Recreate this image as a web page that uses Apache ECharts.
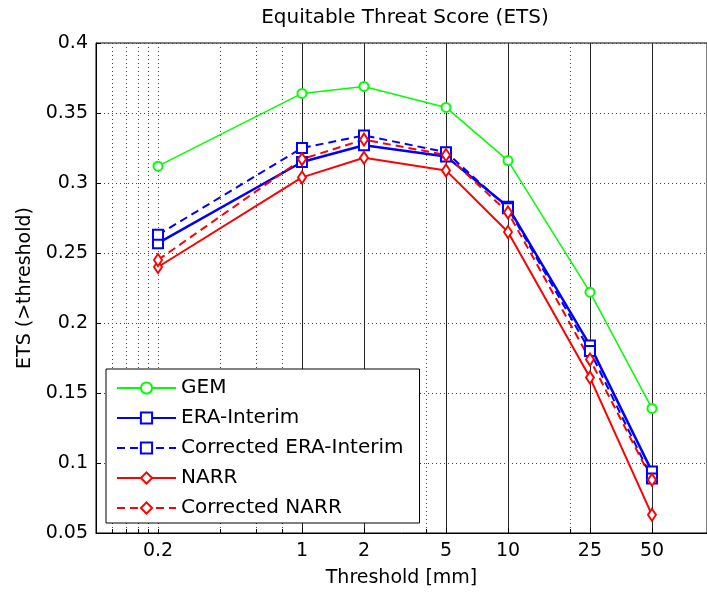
<!DOCTYPE html>
<html>
<head>
<meta charset="utf-8">
<script src="https://cdn.jsdelivr.net/npm/echarts@6/dist/echarts.min.js"></script>
<style>
html,body{margin:0;padding:0;background:#fff;}
#chart{width:707px;height:594px;}
</style>
</head>
<body>
<div id="chart"></div>
<script>
// ---- data ----
const thresholds = [0.2, 1, 2, 5, 10, 25, 50];
const gem      = [0.312, 0.364, 0.369, 0.354, 0.316, 0.222, 0.139];
const era      = [0.257, 0.315, 0.327, 0.319, 0.283, 0.184, 0.094];
const eraCorr  = [0.263, 0.325, 0.334, 0.322, 0.282, 0.180, 0.089];
const narr     = [0.240, 0.304, 0.318, 0.309, 0.265, 0.161, 0.063];
const narrCorr = [0.245, 0.317, 0.331, 0.320, 0.279, 0.174, 0.088];
const xTickLabels = [0.2, 1, 2, 5, 10, 25, 50];
const xMajorGrid = [1, 2, 5, 10, 25, 50];
const xMinorGrid = [0.12, 0.14, 0.16, 0.18, 0.2, 0.4, 0.6, 0.8, 4, 20];
const yTicks = [0.05, 0.1, 0.15, 0.2, 0.25, 0.3, 0.35, 0.4];
const xMin = 0.1, xMax = 92.5;

const FONT = 'DejaVu Sans';
const pairs = arr => thresholds.map((t, i) => [t, arr[i]]);

const chart = echarts.init(document.getElementById('chart'), null, {renderer: 'canvas'});

function mkSeries(name, arr, color, symbol, size, width, dashed) {
  return {
    name: name, type: 'line', data: pairs(arr),
    xAxisIndex: 0, yAxisIndex: 0,
    symbol: symbol, symbolSize: size, showSymbol: true,
    lineStyle: {color: color, width: width, type: dashed ? [8, 5] : 'solid'},
    itemStyle: {color: color, borderColor: color, borderWidth: 1.5},
    emphasis: {disabled: true},
    animation: false, z: 3
  };
}

const option = {
  animation: false,
  backgroundColor: '#fff',
  textStyle: {fontFamily: FONT},
  graphic: [{
    type: 'text', x: 405, y: 18,
    style: {text: 'Equitable Threat Score (ETS)', fontFamily: FONT, fontSize: 20, fill: '#000', align: 'center', verticalAlign: 'middle'}
  }],
  grid: {left: 96, top: 43, width: 611, height: 490, containLabel: false,
         show: true, borderColor: '#000', borderWidth: 1, backgroundColor: 'transparent'},
  xAxis: [{
    type: 'log', logBase: 10, min: xMin, max: xMax, position: 'bottom',
    name: 'Threshold [mm]', nameLocation: 'middle', nameGap: 36,
    nameTextStyle: {fontFamily: FONT, fontSize: 19, color: '#000'},
    axisLine: {show: true, onZero: false, lineStyle: {color: '#000', width: 1}},
    axisTick: {show: true, inside: true, length: 5, customValues: xMajorGrid, lineStyle: {color: '#000'}},
    axisLabel: {show: true, customValues: xTickLabels, margin: 9, fontFamily: FONT, fontSize: 19, color: '#000',
                formatter: v => String(+(+v).toPrecision(3))},
    splitLine: {show: true, lineStyle: {color: '#222', width: 1, type: 'solid'}},
    minorTick: {show: false}, minorSplitLine: {show: false}
  }, {
    type: 'log', logBase: 10, min: xMin, max: xMax, position: 'bottom', gridIndex: 0,
    axisLine: {show: false, onZero: false},
    axisTick: {show: true, inside: true, length: 4, customValues: xMinorGrid, lineStyle: {color: '#000'}},
    axisLabel: {show: false},
    splitLine: {show: true, lineStyle: {color: '#444', width: 1, type: [1, 3]}}
  }],
  yAxis: [{
    type: 'value', min: 0.05, max: 0.4, interval: 0.05,
    name: 'ETS (>threshold)', nameLocation: 'middle', nameGap: 60, nameRotate: 90,
    nameTextStyle: {fontFamily: FONT, fontSize: 19, color: '#000'},
    axisLine: {show: true, onZero: false, lineStyle: {color: '#000', width: 1}},
    axisTick: {show: true, inside: true, length: 5, lineStyle: {color: '#000'}},
    axisLabel: {margin: 8, fontFamily: FONT, fontSize: 19, color: '#000',
                customValues: yTicks,
                formatter: v => String(+(+v).toFixed(2))},
    splitLine: {show: true, lineStyle: {color: '#444', width: 1, type: [1, 3]}}
  }],
  legend: {
    orient: 'vertical', left: 106, top: 369,
    itemWidth: 59, itemHeight: 14, itemGap: 10,
    padding: [9, 16, 5, 10],
    borderColor: '#000', borderWidth: 1, backgroundColor: '#fff',
    textStyle: {fontFamily: FONT, fontSize: 20, lineHeight: 20, color: '#000'},
    data: ['GEM', 'ERA-Interim', 'Corrected ERA-Interim', 'NARR', 'Corrected NARR'],
    selectedMode: false
  },
  series: [
    mkSeries('GEM', gem, '#00ff00', 'emptyCircle', 9, 1.5, false),
    mkSeries('ERA-Interim', era, '#0000ff', 'emptyRect', 10, 2.5, false),
    mkSeries('Corrected ERA-Interim', eraCorr, '#0000ff', 'emptyRect', 10, 2, true),
    mkSeries('NARR', narr, '#ff0000', 'emptyDiamond', [8, 12], 2, false),
    mkSeries('Corrected NARR', narrCorr, '#ff0000', 'emptyDiamond', [8, 12], 2, true)
  ]
};
chart.setOption(option);
</script>
</body>
</html>
